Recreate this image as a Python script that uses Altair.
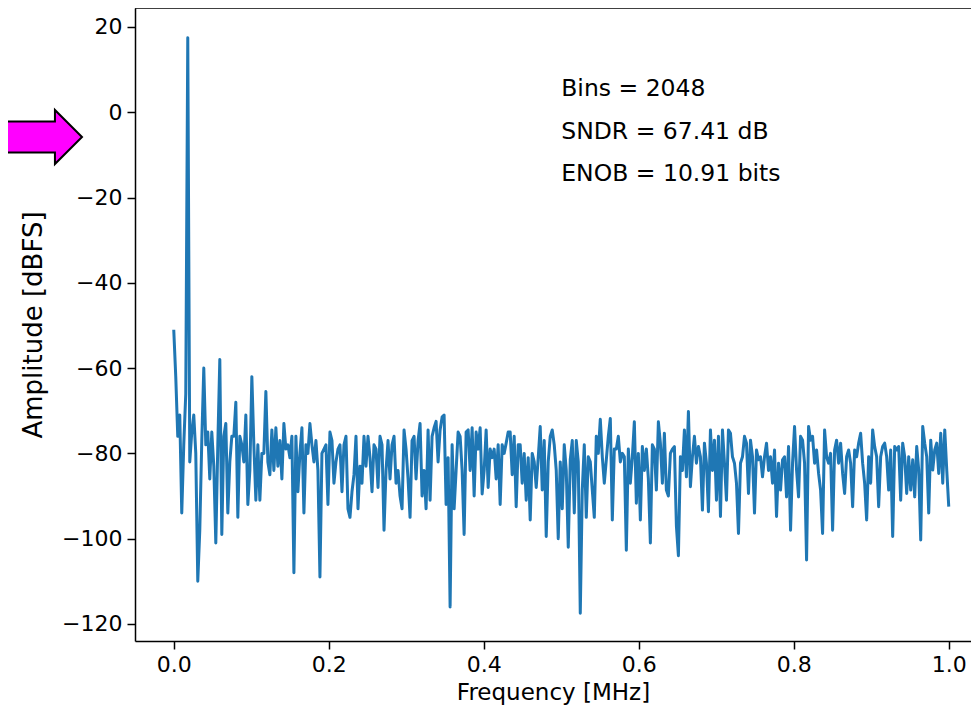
import altair as alt
import pandas as pd

# ---- spectrum amplitudes [dBFS], read left to right from the picture ----
amp_low = [-51, -62, -76, -71, -94, -78, -66, 17.5, -82, -75, -71, -80, -110, -98,
           -77, -60, -78, -75, -86, -75, -83, -101, -78, -58, -99, -76, -73, -94,
           -82, -76, -76, -68, -95, -76, -78, -82]
amp_b = [-71, -92, -84, -62, -78, -91, -78, -91, -80, -80, -65.5, -82, -85, -74.5,
         -84, -74, -83, -77, -86, -73, -79, -78, -81, -76, -108, -76, -89, -80, -74,
         -94, -78, -80, -73, -78, -82, -77, -84, -109, -80, -79, -78, -92, -75, -77,
         -87, -82, -79, -78, -89, -78, -76, -93]
amp_c = [-95, -89, -85, -76, -93, -83, -87, -76, -83, -76, -81, -89, -78, -79, -88,
         -76, -78, -98, -84, -77, -86, -78, -76, -87, -84, -90, -93, -74.5, -79, -86,
         -95, -77, -76, -86, -77, -73, -90, -84, -93, -74.5, -91, -76, -74, -72.5,
         -82, -74.5, -71.5, -71, -92, -81, -116, -78]
amp_d = [-93, -84, -75, -76, -84, -99, -75, -74.5, -84, -74, -90, -75, -79, -74,
         -89.5, -84, -74.5, -88, -79, -81, -79, -86, -78, -92, -78, -80, -77.6, -75,
         -75, -85, -76, -92.5, -78, -78, -87, -80, -91, -81, -95.6, -80, -82, -88,
         -81, -73.7, -88.6, -77, -99.5, -82, -76, -74.5, -78]
amp_e = [-84, -100, -82, -93, -78, -84, -102, -81.5, -77, -94, -77, -82, -117.5,
         -88.6, -78, -95, -80.8, -82, -88.6, -95, -76, -80, -72, -80.8, -87, -81.5,
         -76, -71.8, -95.6, -79, -79, -76, -82, -80, -80.8, -102.7, -79, -87, -80.8,
         -72.6, -91.7, -80, -95.6, -78.4, -84, -79, -86, -101, -78, -79, -88.6, -72.6,
         -77.6]
amp_f = [-87, -75.3, -88.6, -90, -80, -79, -78.4, -97, -104, -80.8, -84, -74.5,
         -85.5, -70.2, -87.8, -80.8, -76, -82.3, -78.4, -80.8, -93.3, -77.6, -82.3,
         -93.7, -74.5, -84, -76.9, -91, -76, -94.8, -74.5, -82.3, -91, -74.5, -75.3,
         -80.8, -82.3, -87, -98.8, -82.3, -80.8, -76, -77.6, -89.4, -76.9, -80.8, -94,
         -79.2, -81.5, -80.8, -85.5, -80.8]
amp_g = [-77.6, -84, -80.8, -87, -79.2, -94.8, -82.3, -88.6, -81.5, -80.8, -90.2,
         -78.4, -98, -82.3, -73.7, -83.9, -90.2, -76, -76.9, -82.3, -105, -73.7, -76.9,
         -76, -82.3, -79.2, -84.7, -88.6, -98.8, -74.5, -80.8, -82.3, -80, -98, -79.2,
         -76.9, -82.3, -77.6, -84.7, -89.4, -80.8, -79.2, -82.3, -92.5, -79.2, -80.8,
         -77.6, -75.3, -82.3, -87, -95.6, -80.8]
amp_h = [-87, -74.5, -78.4, -80.8, -92.5, -80.8, -78.4, -77.6, -80.8, -88.6, -79.2,
         -99.5, -78.4, -79.2, -78.4, -91, -77.6, -80.8, -89.4, -80.8, -88.6, -81.5,
         -90.2, -78.4, -83.9, -100.3, -73.7, -77.6, -80.8, -94, -76.9, -83.9, -79.2,
         -77.6, -84.7, -75.3, -87, -74.5, -83.9, -92.5]

amplitude = amp_low + amp_b + amp_c + amp_d + amp_e + amp_f + amp_g + amp_h
n_bins = len(amplitude)
freq_max = 1.0
frequency = [freq_max * i / (n_bins - 1) for i in range(n_bins)]

x_ticks = [0.0, 0.2, 0.4, 0.6, 0.8, 1.0]
y_ticks = [-120, -100, -80, -60, -40, -20, 0, 20]

note_text = ["Bins = 2048", "SNDR = 67.41 dB", "ENOB = 10.91 bits"]
note_x = [0.5, 0.5, 0.5]
note_y = [3.8, -6.2, -16.2]

FONT = "DejaVu Sans"
W, H = 836, 633

spec = pd.DataFrame({"f": frequency, "a": amplitude})
notes = pd.DataFrame({"f": note_x, "a": note_y, "t": note_text})

xscale = alt.Scale(domain=[-0.05, -0.05 + W / 775], nice=False, zero=False)
yscale = alt.Scale(domain=[-124.0, 24.45], nice=False, zero=False)

line = alt.Chart(spec).mark_line(
    color="#1f77b4", strokeWidth=3.0, strokeJoin="round"
).encode(
    x=alt.X("f:Q", scale=xscale,
            axis=alt.Axis(values=x_ticks, format=".1f", title="Frequency [MHz]",
                          titleFontSize=23, titlePadding=6, labelFontSize=22)),
    y=alt.Y("a:Q", scale=yscale,
            axis=alt.Axis(values=y_ticks, format="d", title="Amplitude [dBFS]",
                          titleFontSize=26, titlePadding=15, labelFontSize=22)),
)

text = alt.Chart(notes).mark_text(
    align="left", baseline="alphabetic", font=FONT, fontSize=23.5, color="black"
).encode(x="f:Q", y="a:Q", text="t:N")

top_spine = alt.Chart(pd.DataFrame({"k": [0]})).mark_rule(
    color="black", strokeWidth=1.5
).encode(x=alt.value(0), x2=alt.value(W), y=alt.value(0))

ARROW = "M -1 -0.38 L 0.34 -0.38 L 0.34 -0.66 L 1 0 L 0.34 0.66 L 0.34 0.38 L -1 0.38 Z"
arrow = alt.Chart(pd.DataFrame({"k": [0]})).mark_point(
    shape=ARROW, size=6724, filled=True, fill="#ff00ff", stroke="black",
    strokeWidth=2, opacity=1
).encode(x=alt.value(-94), y=alt.value(129))

chart = alt.layer(line, text, top_spine, arrow).properties(
    width=W, height=H,
    autosize=alt.AutoSizeParams(type="none"),
    padding={"left": 127, "top": 0, "right": 0, "bottom": 70},
    background="white",
).configure_view(
    strokeWidth=0
).configure_axis(
    domain=True, domainColor="black", domainWidth=1.5, grid=False,
    tickColor="black", tickWidth=1.5, tickSize=8,
    labelFont=FONT, labelColor="black", labelPadding=5,
    titleFont=FONT, titleFontWeight="normal", titleColor="black",
)

chart.save("out.html", embed_options={"renderer": "svg", "actions": False})
